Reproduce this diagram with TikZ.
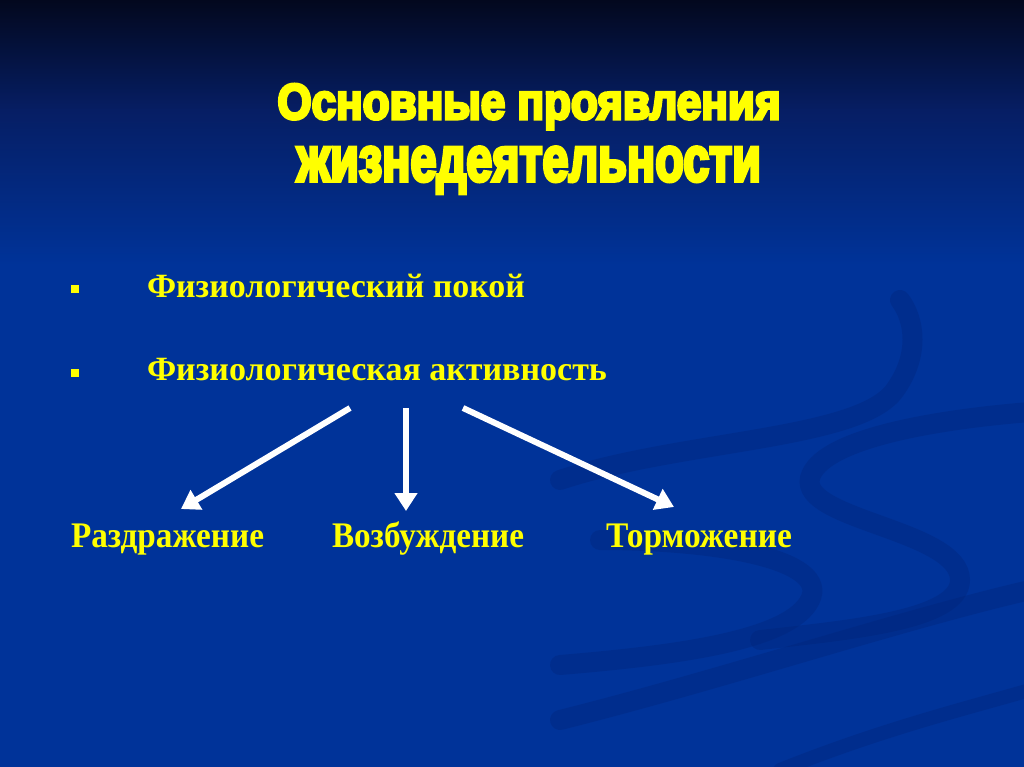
\documentclass[tikz,border=0pt]{standalone}
\usepackage{fontspec}
\usepackage{graphicx}
\usetikzlibrary{arrows.meta}
\newfontfamily\titlefont[FakeBold=6]{Liberation Sans Bold}
\newfontfamily\bodyfont{Liberation Serif Bold}
\definecolor{bgtop}{RGB}{3,8,30}
\definecolor{bgmid}{RGB}{6,30,100}
\definecolor{bgmain}{RGB}{0,51,153}
\definecolor{band}{RGB}{0,36,120}
\definecolor{txtyellow}{RGB}{255,255,0}
\tikzset{
  yellowtext/.style={text=txtyellow, inner sep=0pt, outer sep=0pt},
  bulletsq/.style={fill=txtyellow, minimum size=8pt, inner sep=0pt},
  whitearrow/.style={draw=white, line width=6pt, -{Triangle[length=18pt,width=22pt]}},
  swirl/.style={draw=band, line width=20pt, opacity=0.35, line cap=round}
}
\begin{document}
\begin{tikzpicture}[x=1pt,y=-1pt]
\useasboundingbox (0,0) rectangle (1024,767);
% background
\fill[bgmain] (0,0) rectangle (1024,767);
\shade[top color=bgtop, bottom color=bgmid] (0,0) rectangle (1024,111);
\shade[top color=bgmid, bottom color=bgmain] (0,110) rectangle (1024,265);
% decorative swirls
\draw[swirl] (560,480) .. controls (680,440) and (860,440) .. (895,390) .. controls (920,355) and (915,320) .. (900,300);
\draw[swirl] (1030,412) .. controls (930,420) and (820,440) .. (810,478) .. controls (800,520) and (960,530) .. (960,580) .. controls (960,620) and (850,630) .. (760,640);
\draw[swirl] (600,540) .. controls (720,540) and (830,560) .. (810,600) .. controls (790,640) and (680,655) .. (560,665);
\draw[swirl] (560,720) .. controls (720,680) and (900,620) .. (1030,590);
\draw[swirl, line width=14pt] (780,770) .. controls (880,730) and (960,710) .. (1030,690);
% title
\node[yellowtext, anchor=base] (t1) at (529,119) {\resizebox{503pt}{35pt}{\titlefont Основные проявления}};
\node[yellowtext, anchor=base] (t2) at (529,181) {\resizebox{464pt}{34pt}{\titlefont жизнедеятельности}};
% bullets
\node[bulletsq] (b1) at (75,289) {};
\node[bulletsq] (b2) at (75,373) {};
\node[yellowtext, anchor=base west] (l1) at (147,297) {\resizebox{378pt}{\height}{\fontsize{34}{41}\bodyfont Физиологический покой}};
\node[yellowtext, anchor=base west] (l2) at (147,380) {\resizebox{460pt}{\height}{\fontsize{34}{41}\bodyfont Физиологическая активность}};
% bottom labels
\node[yellowtext, anchor=base west] (r1) at (71,547) {\resizebox{193pt}{\height}{\fontsize{36}{43}\bodyfont Раздражение}};
\node[yellowtext, anchor=base west] (r2) at (332,547) {\resizebox{192pt}{\height}{\fontsize{36}{43}\bodyfont Возбуждение}};
\node[yellowtext, anchor=base west] (r3) at (606,547) {\resizebox{186pt}{\height}{\fontsize{36}{43}\bodyfont Торможение}};
% arrows
\coordinate (s1) at (350,408);
\coordinate (e1) at (181,509);
\coordinate (s2) at (406,408);
\coordinate (e2) at (406,511);
\coordinate (s3) at (463,408);
\coordinate (e3) at (674,507);
\draw[whitearrow] (s1) -- (e1);
\draw[whitearrow] (s2) -- (e2);
\draw[whitearrow] (s3) -- (e3);
\end{tikzpicture}
\end{document}
